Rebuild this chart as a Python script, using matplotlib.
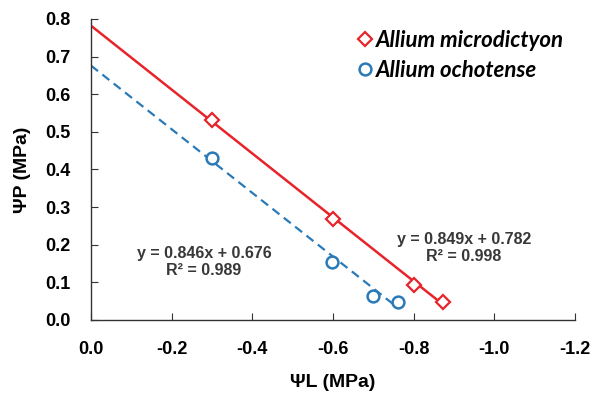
import matplotlib
matplotlib.use("Agg")
import matplotlib.pyplot as plt
import numpy as np

# Data
am_x = [-0.30, -0.60, -0.80, -0.873]
am_y = [0.532, 0.268, 0.093, 0.048]
ao_x = [-0.30, -0.597, -0.70, -0.761]
ao_y = [0.431, 0.154, 0.064, 0.048]
am_slope, am_int, am_r2 = 0.849, 0.782, 0.998
ao_slope, ao_int, ao_r2 = 0.846, 0.676, 0.989
am_label = "Allium microdictyon"
ao_label = "Allium ochotense"
xticks = [0.0, -0.2, -0.4, -0.6, -0.8, -1.0, -1.2]
yticks = [0.0, 0.1, 0.2, 0.3, 0.4, 0.5, 0.6, 0.7, 0.8]

red = "#E8232A"
blue = "#2A7AB8"

plt.rcParams['font.family'] = ['Liberation Sans', 'DejaVu Sans']

fig = plt.figure(figsize=(5.91, 3.95), dpi=100)
ax = fig.add_axes([0.154, 0.190, 0.819, 0.762])

# trend lines (fit on |x|)
xl = np.array([0.0, min(am_x)])
ax.plot(xl, am_int - am_slope * np.abs(xl), color=red, lw=1.8, zorder=2)
xl2 = np.array([0.0, min(ao_x)])
ax.plot(xl2, ao_int - ao_slope * np.abs(xl2), color=blue, lw=1.6, ls=(0, (4, 2.5)), zorder=2)

ax.plot(am_x, am_y, ls='none', marker='D', ms=7, mfc='white', mec=red, mew=1.6, zorder=3, label=am_label)
ax.plot(ao_x, ao_y, ls='none', marker='o', ms=8.5, mfc='white', mec=blue, mew=1.8, zorder=3, label=ao_label)

ax.set_xlim(0, -1.2)
ax.set_ylim(0, 0.8)
ax.set_xticks(xticks)
ax.set_yticks(yticks)
ax.set_xticklabels([f"{v:.1f}" for v in xticks])
ax.set_yticklabels([f"{v:.1f}" for v in yticks])
for lbl in ax.get_xticklabels() + ax.get_yticklabels():
    lbl.set_fontweight('bold')
    lbl.set_fontsize(13)
ax.tick_params(axis='x', direction='in', length=5, pad=15, color='#333333')
ax.tick_params(axis='y', direction='in', length=5, pad=15, color='#333333')

for s in ['top', 'right']:
    ax.spines[s].set_visible(False)
for s in ['left', 'bottom']:
    ax.spines[s].set_color('#333333')
    ax.spines[s].set_linewidth(1.0)

ax.set_xlabel("ΨL (MPa)", fontsize=14, fontweight='bold', labelpad=12)
ax.set_ylabel("ΨP (MPa)", fontsize=14, fontweight='bold', labelpad=10)

ax.text(-0.280, 0.155, f"y = {ao_slope}x + {ao_int}\nR² = {ao_r2}", ha='center', va='center',
        fontsize=11.5, fontweight='bold', color='#383838', linespacing=1.15)
ax.text(-0.925, 0.191, f"y = {am_slope}x + {am_int}\nR² = {am_r2}", ha='center', va='center',
        fontsize=11.5, fontweight='bold', color='#383838', linespacing=1.15)

leg = ax.legend(loc='upper left', bbox_to_anchor=(0.51, 1.015), frameon=False,
                prop={'family': 'Lato', 'weight': 'bold', 'style': 'italic', 'size': 16},
                handletextpad=0.0, handlelength=1.0, labelspacing=0.4, borderpad=0.2)

fig.savefig("out.png", dpi=100)
